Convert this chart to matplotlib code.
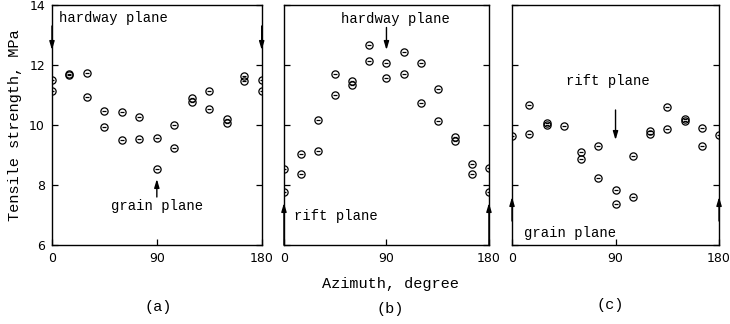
import numpy as np
import matplotlib.pyplot as plt

# azimuth (deg) and tensile strength (MPa)
az_a = [0, 0, 15, 15, 30, 30, 45, 45, 60, 60, 75, 75, 90, 90,
        105, 105, 120, 120, 135, 135, 150, 150, 165, 165, 180, 180]
ts_a = [11.5, 11.13, 11.7, 11.66, 11.74, 10.93, 10.45, 9.93, 10.42, 9.51, 10.25, 9.55, 9.57, 8.52,
        10.0, 9.23, 10.9, 10.77, 11.12, 10.53, 10.19, 10.05, 11.62, 11.47, 11.49, 11.13]

az_b = [0, 0, 15, 15, 30, 30, 45, 45, 60, 60, 75, 75, 90, 90,
        105, 105, 120, 120, 135, 135, 150, 150, 165, 165, 180, 180]
ts_b = [8.54, 7.78, 9.02, 8.36, 10.16, 9.12, 11.71, 11.0, 11.47, 11.32, 12.67, 12.13, 12.05, 11.58,
        12.43, 11.69, 12.08, 10.74, 11.21, 10.13, 9.6, 9.46, 8.71, 8.36, 8.56, 7.78]

az_c = [0, 15, 15, 30, 30, 45, 60, 60, 75, 75, 90, 90,
        105, 105, 120, 120, 135, 135, 150, 150, 165, 165, 180]
ts_c = [9.65, 10.67, 9.69, 10.08, 9.99, 9.97, 9.1, 8.88, 9.3, 8.24, 7.82, 7.36,
        8.97, 7.6, 9.79, 9.7, 10.6, 9.86, 10.2, 10.12, 9.91, 9.3, 9.67]

FONT = 'Liberation Mono'
fig = plt.figure(figsize=(7.3, 3.24), dpi=100)

boxes = [[0.0712, 0.2438, 0.2873, 0.7408],
         [0.3890, 0.2438, 0.2808, 0.7408],
         [0.7014, 0.2438, 0.2836, 0.7408]]
data = [(az_a, ts_a), (az_b, ts_b), (az_c, ts_c)]
axes = []

for i in range(3):
    ax = fig.add_axes(boxes[i])
    az, ts = data[i]
    ax.plot(az, ts, linestyle='none', marker='o', ms=5.2, mfc='none', mec='k', mew=0.9)
    ax.plot(az, ts, linestyle='none', marker='_', ms=3.4, mec='k', mew=0.9)
    ax.set_xlim(0, 180)
    ax.set_ylim(6, 14)
    ax.set_xticks([0, 90, 180])
    ax.set_yticks([6, 8, 10, 12, 14])
    ax.tick_params(direction='in', length=4, width=0.9, right=True, top=False,
                   labelsize=9, pad=5, colors='k')
    if i > 0:
        ax.set_yticklabels([])
    for s in ax.spines.values():
        s.set_linewidth(1.0)
    axes.append(ax)

axes[0].set_ylabel('Tensile strength, MPa', fontsize=11, family=FONT, labelpad=5)

arrow = dict(arrowstyle='-|>,head_width=0.15,head_length=0.5', color='k', lw=1.0,
             shrinkA=0, shrinkB=0)

# (a)
ax = axes[0]
ax.text(6, 13.55, 'hardway plane', fontsize=10, family=FONT, va='center')
for x in [0, 180]:
    ax.annotate('', xy=(x, 12.5), xytext=(x, 13.3), arrowprops=arrow, annotation_clip=False)
ax.annotate('', xy=(90, 8.2), xytext=(90, 7.6), arrowprops=arrow)
ax.text(90, 7.3, 'grain plane', fontsize=10, family=FONT, ha='center', va='center')

# (b)
ax = axes[1]
ax.text(98, 13.53, 'hardway plane', fontsize=10, family=FONT, ha='center', va='center')
ax.annotate('', xy=(90, 12.5), xytext=(90, 13.25), arrowprops=arrow)
ax.text(9, 6.97, 'rift plane', fontsize=10, family=FONT, va='center')
for x in [0, 180]:
    ax.annotate('', xy=(x, 7.4), xytext=(x, 6.0), arrowprops=arrow, annotation_clip=False)

# (c)
ax = axes[2]
ax.text(83, 11.45, 'rift plane', fontsize=10, family=FONT, ha='center', va='center')
ax.annotate('', xy=(90, 9.5), xytext=(90, 10.5), arrowprops=arrow)
ax.text(10, 6.4, 'grain plane', fontsize=10, family=FONT, va='center')
for x in [0, 180]:
    ax.annotate('', xy=(x, 7.6), xytext=(x, 6.8), arrowprops=arrow, annotation_clip=False)

fig.text(390 / 730, 1 - 284 / 324, 'Azimuth, degree', fontsize=11, family=FONT,
         ha='center', va='center')
for lab, x, y in [('(a)', 158, 307), ('(b)', 390, 309), ('(c)', 610, 305)]:
    fig.text(x / 730, 1 - y / 324, lab, fontsize=11, family=FONT, ha='center', va='center')

fig.savefig('out.png', dpi=100)
